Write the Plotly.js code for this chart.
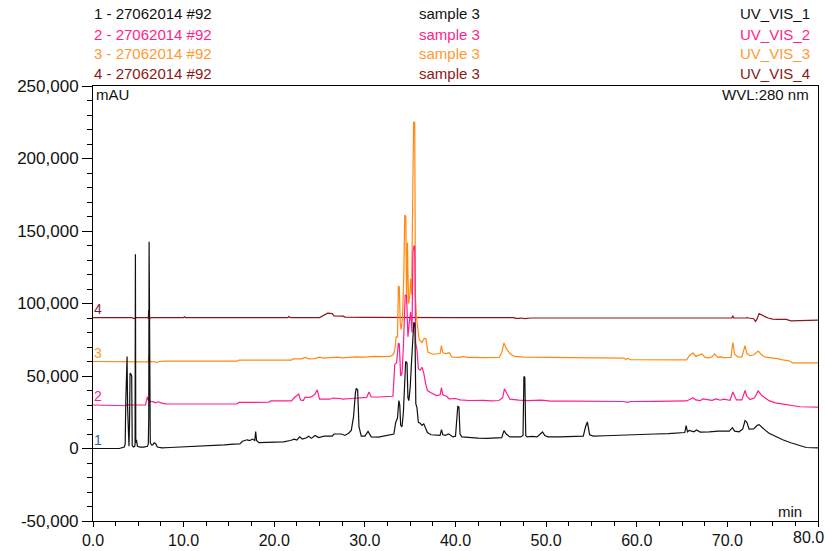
<!DOCTYPE html>
<html><head><meta charset="utf-8">
<script src="https://cdn.plot.ly/plotly-3.0.1.min.js"></script>
<style>html,body{margin:0;padding:0;background:#fff}#chart{width:825px;height:551px}</style>
</head><body><div id="chart"></div>
<script>
// ---------- data ----------
const channels = ['UV_VIS_1', 'UV_VIS_2', 'UV_VIS_3', 'UV_VIS_4'];
const injections = ['1 - 27062014 #92', '2 - 27062014 #92', '3 - 27062014 #92', '4 - 27062014 #92'];
const samples = ['sample 3', 'sample 3', 'sample 3', 'sample 3'];
const traceNumbers = ['1', '2', '3', '4'];
const offsets = [0, 30000, 60000, 90000];   // overlay offset (mAU)

// [time (min), signal (mAU)]
const uvVis1 = [[0,0],[2.9,0],[3.45,1000],[3.55,3000],[3.62,33000],[3.68,63500],[3.76,63500],[3.82,28000],[3.9,2000],[3.97,1500],[4.03,17000],[4.09,52000],[4.2,51000],[4.27,50000],[4.33,2000],[4.45,1000],[4.6,1500],[4.64,3000],[4.68,134000],[4.72,4000],[4.8,6000],[4.9,1500],[5.2,1000],[5.6,1000],[6.0,1500],[6.1,3000],[6.15,20000],[6.19,142600],[6.24,6000],[6.32,4000],[6.45,2500],[6.6,2500],[6.75,4000],[6.9,3500],[7.1,1000],[7.6,500],[8.5,700],[9.5,1000],[10.5,800],[11.5,1200],[12.2,1700],[13.5,1800],[14.5,2500],[15.5,3000],[16.2,3200],[16.5,5000],[17.0,6000],[17.3,5500],[17.6,6500],[17.85,5500],[17.95,11600],[18.05,5500],[18.3,4000],[19.2,4200],[20.0,4500],[21.0,4600],[21.8,5500],[22.2,6500],[22.5,5800],[22.8,8000],[23.1,6500],[23.5,7200],[23.8,8500],[24.1,7000],[24.5,9000],[24.9,7500],[25.5,8500],[26.4,8500],[26.6,10000],[27.4,10000],[27.8,9000],[28.2,10500],[28.5,12500],[28.75,22000],[28.95,38000],[29.05,41500],[29.2,40500],[29.35,15000],[29.6,8500],[30.0,8500],[30.35,11800],[30.5,10500],[30.7,8000],[31.5,7800],[32.2,8800],[32.8,9300],[33.2,10000],[33.4,18000],[33.6,21000],[33.75,33000],[33.85,30000],[33.95,16000],[34.1,15000],[34.25,25000],[34.4,55000],[34.5,60000],[34.65,59000],[34.75,35000],[34.85,33000],[35.0,42000],[35.15,60000],[35.3,78000],[35.4,87000],[35.52,86000],[35.62,31000],[35.75,28000],[35.9,18000],[36.1,17500],[36.3,16000],[36.5,17000],[36.7,13500],[36.9,11000],[37.3,9500],[37.8,9000],[38.3,9000],[38.45,13000],[38.6,9500],[38.9,9000],[39.2,10000],[39.4,9500],[39.7,8000],[40.0,8500],[40.15,20000],[40.25,29000],[40.38,28500],[40.5,10000],[40.7,8000],[41.5,7500],[42.5,7200],[43.5,7000],[44.5,7000],[45.1,7500],[45.35,12300],[45.6,10000],[46.0,8000],[46.6,8000],[47.2,8000],[47.45,9000],[47.55,49700],[47.65,49000],[47.75,9000],[47.9,8000],[48.5,8300],[49.0,8000],[49.4,10000],[49.6,11400],[49.85,9000],[50.2,8000],[51.5,8000],[53.0,8000],[54.1,8500],[54.35,15000],[54.55,18300],[54.8,9500],[55.2,8500],[56.5,8800],[58.0,9000],[60.0,9500],[62.0,10000],[63.5,10300],[64.5,10500],[65.3,11000],[65.45,15800],[65.6,11500],[65.8,12500],[66.3,11500],[66.6,12800],[67.0,11300],[68.0,11500],[69.0,12000],[70.2,12000],[70.55,14400],[70.8,12000],[71.3,11500],[71.7,13500],[71.95,19200],[72.15,18000],[72.4,13400],[72.9,13500],[73.3,16000],[73.5,16500],[73.8,14500],[74.2,12500],[74.6,10500],[75.2,8500],[76.1,6000],[77.0,4000],[78.0,1800],[78.7,700],[80,500]];

const uvVis2 = [[0,0],[3.5,0],[3.65,-500],[3.75,500],[4.0,0],[5.8,0],[6.0,5700],[6.12,3000],[6.2,4600],[6.3,2500],[6.6,2300],[6.9,1500],[7.2,2200],[7.5,1500],[8.0,800],[9.0,700],[12.0,700],[15.9,700],[16.1,1800],[19.4,1900],[19.6,2800],[21.9,2800],[22.2,5000],[22.7,7500],[22.9,3500],[23.2,3000],[23.4,5300],[23.9,5300],[24.2,6000],[24.5,7500],[24.75,10500],[25.0,4000],[26.1,4000],[26.5,4800],[27.2,4500],[27.6,4000],[28.5,4500],[29.5,5200],[30.2,5200],[30.45,9000],[30.7,5500],[31.5,5500],[32.5,5500],[33.1,6000],[33.3,28000],[33.5,29000],[33.7,42700],[33.8,42000],[33.95,20000],[34.1,22000],[34.25,40000],[34.45,76000],[34.6,75000],[34.75,47000],[34.9,57000],[35.05,64000],[35.2,50000],[35.3,105000],[35.42,110000],[35.5,109000],[35.6,43000],[35.75,38000],[35.9,25000],[36.1,24000],[36.3,26000],[36.5,22000],[36.7,14700],[36.9,10000],[37.3,8500],[37.9,6500],[38.3,7000],[38.45,12000],[38.6,7000],[39.0,6000],[39.3,4300],[40.0,4500],[40.5,3500],[41.5,3100],[43.0,3200],[44.0,2800],[44.8,3100],[45.2,5000],[45.4,11200],[45.7,7000],[46.0,4000],[47.0,3300],[48.0,3000],[49.5,3300],[50.5,2700],[53.0,2700],[56.0,2500],[58.5,2400],[59.0,1800],[59.3,2400],[62.0,2500],[64.0,2500],[65.5,2800],[65.9,4000],[66.2,5000],[66.5,3500],[67.0,3000],[67.3,4200],[67.8,3500],[68.3,3200],[68.8,4200],[69.2,3300],[69.6,4000],[70.0,3500],[70.3,3200],[70.6,9000],[70.8,5500],[71.0,3500],[71.6,3500],[71.95,10000],[72.15,6000],[72.5,3800],[73.0,5000],[73.4,9700],[73.8,6500],[74.2,5000],[74.6,3000],[75.3,1500],[76.1,700],[77.0,-300],[78.0,-1200],[80,-1500]];

const uvVis3 = [[0,0],[3.5,0],[3.7,-500],[4.0,0],[4.5,-300],[5.9,0],[6.1,-300],[6.17,4800],[6.22,500],[6.5,-200],[6.8,0],[7.0,-800],[7.3,0],[8.0,300],[12.0,300],[15.9,300],[16.1,1000],[19.0,1000],[21.9,1000],[22.1,1800],[23.0,1800],[23.4,2800],[23.8,1800],[24.5,2000],[25.0,3000],[25.4,2300],[26.5,2500],[27.0,3000],[27.5,2500],[29.0,3200],[30.0,3000],[31.0,3500],[32.0,3300],[32.8,3500],[33.15,5000],[33.3,8000],[33.45,17000],[33.6,17000],[33.7,52000],[33.8,51500],[33.9,26500],[34.0,22000],[34.15,30000],[34.3,60000],[34.4,101000],[34.52,100000],[34.6,40000],[34.7,82000],[34.82,40000],[34.95,45000],[35.05,57000],[35.15,46000],[35.28,113000],[35.38,165000],[35.5,165000],[35.58,45000],[35.7,30000],[35.85,23000],[36.0,15000],[36.3,13000],[36.55,16000],[36.75,15500],[36.95,6500],[37.5,5000],[38.0,5200],[38.3,5500],[38.45,11000],[38.6,6000],[39.0,5500],[39.3,6000],[39.6,3000],[40.5,2800],[40.9,3500],[41.2,2800],[43.0,2700],[44.8,2800],[45.1,6000],[45.35,12800],[45.6,9000],[46.0,5500],[46.5,3500],[47.5,3000],[50.0,2800],[53.0,2700],[56.0,2500],[58.6,2300],[58.8,1200],[59.0,2300],[59.3,1200],[62.0,1100],[65.5,1100],[65.8,4000],[66.2,6000],[66.5,3500],[66.8,4000],[67.2,5200],[67.5,3000],[67.9,2500],[68.3,3200],[68.6,5200],[68.9,3000],[69.3,3200],[69.6,2700],[70.0,3000],[70.4,2800],[70.6,13000],[70.8,5000],[71.2,3000],[71.6,3200],[71.95,11000],[72.15,5500],[72.5,4000],[72.9,4500],[73.4,7200],[73.8,4500],[74.2,3000],[74.6,2800],[75.5,2000],[76.1,1100],[76.8,500],[77.2,-1000],[80,-1000]];

const uvVis4 = [[0,300],[3.5,300],[3.7,0],[3.8,300],[4.3,300],[4.45,-300],[4.7,-300],[4.75,300],[6.0,300],[6.1,-300],[6.15,5500],[6.22,-500],[6.4,300],[10.0,300],[10.1,800],[10.2,300],[20.2,300],[20.3,800],[20.4,300],[21.5,300],[21.6,1000],[21.8,300],[25.0,300],[25.4,1800],[25.9,3300],[26.4,3000],[26.6,1500],[27.6,1300],[27.8,600],[30.0,500],[33.0,300],[40.0,200],[46.5,200],[46.6,-300],[47.0,-300],[47.3,0],[47.6,-400],[48.3,0],[55.0,0],[66.7,0],[66.8,400],[66.9,0],[70.5,0],[70.6,1500],[70.7,0],[72.1,0],[72.2,400],[72.3,0],[72.9,-500],[73.1,-2300],[73.25,-1000],[73.5,3000],[73.8,1800],[74.2,800],[74.5,0],[75.0,-800],[75.5,-1000],[76.5,-1000],[77.0,-2000],[78.9,-2000],[79.3,-1500],[80,-1500]];

const xTickVals = [0, 10, 20, 30, 40, 50, 60, 70, 80];
const xTickText = ['0.0', '10.0', '20.0', '30.0', '40.0', '50.0', '60.0', '70.0', '80.0'];
const yTickVals = [-50000, 0, 50000, 100000, 150000, 200000, 250000];
const yTickText = ['-50,000', '0', '50,000', '100,000', '150,000', '200,000', '250,000'];

// ---------- style ----------
const lineColors = ['#111111', '#FF1E8C', '#FF8A12', '#8B1717'];
const textColors = ['#111111', '#FF1E8C', '#FF9A30', '#8B1717'];
const numColors = ['#2F5FA8', '#FF1E8C', '#FF9A30', '#7A1E3A'];
const FONT = 'Liberation Sans, Arial, sans-serif';

const W = 825, H = 551;
const M = {l: 93, r: 7, t: 86, b: 30};
const pw = W - M.l - M.r, ph = H - M.t - M.b;
const px = x => (x - M.l) / pw;
const py = y => (H - M.b - y) / ph;

const series = [uvVis1, uvVis2, uvVis3, uvVis4];
const traces = series.map((s, i) => ({
  x: s.map(p => p[0]),
  y: s.map(p => p[1] + offsets[i]),
  type: 'scatter', mode: 'lines',
  line: {color: lineColors[i], width: 1.2},
  name: channels[i], hoverinfo: 'skip'
})).reverse();

const ann = [];
const rowY = [14, 34, 53.5, 73];
for (let i = 0; i < 4; i++) {
  const base = {xref: 'paper', yref: 'paper', y: py(rowY[i]), yanchor: 'middle', showarrow: false,
                font: {family: FONT, size: 15, color: textColors[i]}};
  ann.push(Object.assign({}, base, {x: px(92), xanchor: 'left', text: injections[i]}));
  ann.push(Object.assign({}, base, {x: px(417), xanchor: 'left', text: samples[i]}));
  ann.push(Object.assign({}, base, {x: px(812), xanchor: 'right', text: channels[i]}));
  // trace number near the left axis, just above the trace's baseline
  ann.push({xref: 'paper', yref: 'y', x: px(92), xanchor: 'left', y: offsets[i], yanchor: 'bottom',
            yshift: -1, showarrow: false, text: traceNumbers[i],
            font: {family: FONT, size: 14, color: numColors[i]}});
}
ann.push({xref: 'paper', yref: 'paper', x: px(94), xanchor: 'left', y: py(94), yanchor: 'middle',
          showarrow: false, text: 'mAU', font: {family: FONT, size: 15, color: '#111'}});
ann.push({xref: 'paper', yref: 'paper', x: px(811), xanchor: 'right', y: py(94), yanchor: 'middle',
          showarrow: false, text: 'WVL:280 nm', font: {family: FONT, size: 15, color: '#111'}});
ann.push({xref: 'paper', yref: 'paper', x: px(804), xanchor: 'right', y: py(511), yanchor: 'middle',
          showarrow: false, text: 'min', font: {family: FONT, size: 15, color: '#111'}});

// last x tick label sits at the right edge of the window: draw it right-aligned so it is not cut off
const lastIdx = xTickVals.length - 1;
const xTickTextShown = xTickText.map((t, i) => i === lastIdx ? '' : t);
ann.push({xref: 'x', yref: 'paper', x: xTickVals[lastIdx], xanchor: 'right', xshift: 8,
          y: 0, yanchor: 'top', yshift: -6, showarrow: false, text: xTickText[lastIdx],
          font: {family: FONT, size: 16, color: '#111'}});

const layout = {
  width: W, height: H,
  margin: M,
  paper_bgcolor: '#fff', plot_bgcolor: '#fff',
  showlegend: false,
  font: {family: FONT, size: 16, color: '#111'},
  xaxis: {
    range: [0, 80], tickmode: 'array', tickvals: xTickVals, ticktext: xTickTextShown,
    ticks: 'outside', ticklen: 5, tickcolor: '#000', tickwidth: 1,
    showline: true, linecolor: '#000', linewidth: 1, mirror: true,
    showgrid: false, zeroline: false,
    tickfont: {family: FONT, size: 16, color: '#111'},
    minor: {tickmode: 'linear', tick0: 0, dtick: 2.5, ticks: 'outside', ticklen: 4, tickcolor: '#000', showgrid: false}
  },
  yaxis: {
    range: [-50000, 250000], tickmode: 'array', tickvals: yTickVals, ticktext: yTickText,
    ticks: 'outside', ticklen: 10, tickcolor: '#000', tickwidth: 1,
    showline: true, linecolor: '#000', linewidth: 1, mirror: true,
    showgrid: false, zeroline: false, ticklabeloverflow: 'allow',
    tickfont: {family: FONT, size: 17, color: '#111'},
    minor: {tickmode: 'linear', tick0: 0, dtick: 10000, ticks: 'outside', ticklen: 5, tickcolor: '#000', showgrid: false}
  },
  annotations: ann
};

Plotly.newPlot('chart', traces, layout, {displayModeBar: false, staticPlot: true});
</script>
</body></html>
